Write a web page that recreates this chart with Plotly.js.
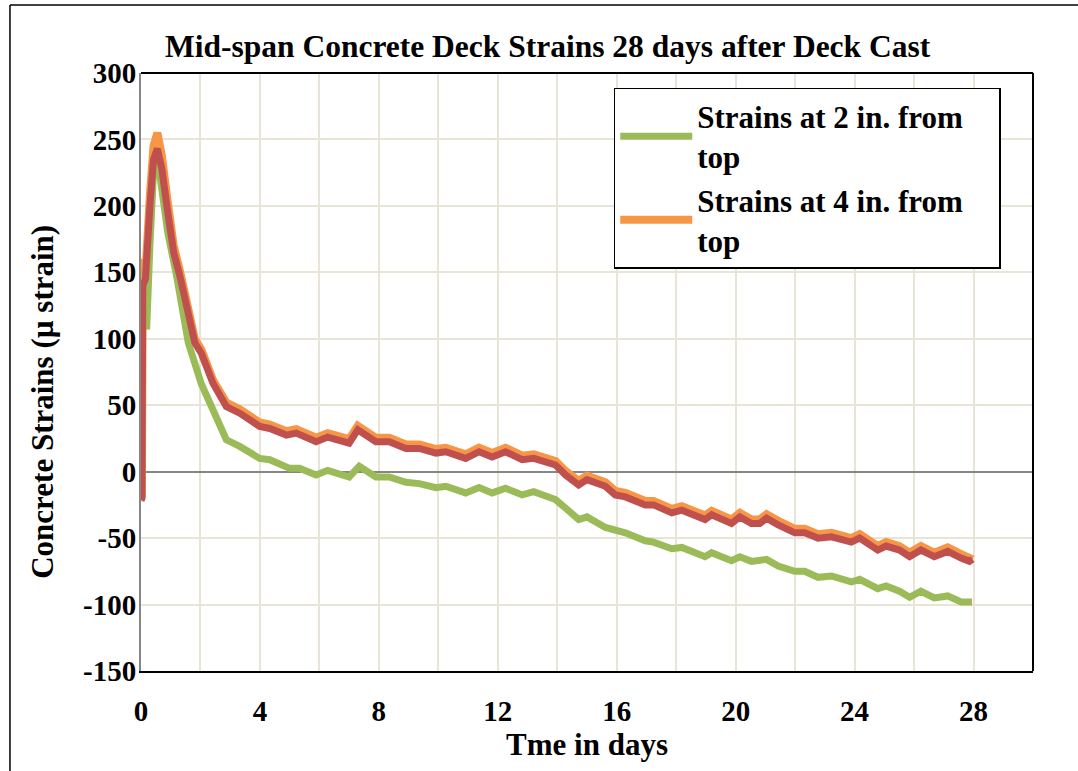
<!DOCTYPE html>
<html>
<head>
<meta charset="utf-8">
<script src="https://cdn.plot.ly/plotly-3.0.1.min.js"></script>
<style>html,body{margin:0;padding:0;background:#fff;}#chart{width:1078px;height:771px;}</style>
</head>
<body>
<div id="chart"></div>
<script>
// Strains at 2 in. from top (green)
const tGreen = [0, 0.03, 0.06, 0.12, 0.19, 0.3, 0.42, 0.55, 0.7, 0.9, 1.2, 1.59, 2.03, 2.42, 2.87, 3.32, 3.99, 4.33, 5.0, 5.33, 5.89, 6.28, 7.0, 7.34, 7.9, 8.35, 8.91, 9.36, 9.92, 10.25, 10.92, 11.37, 11.81, 12.26, 12.82, 13.21, 13.94, 14.28, 14.72, 15.0, 15.62, 16.29, 16.96, 17.24, 17.85, 18.19, 18.97, 19.19, 19.86, 20.14, 20.53, 21.04, 21.43, 21.99, 22.32, 22.77, 23.22, 23.89, 24.17, 24.78, 25.06, 25.51, 25.85, 26.23, 26.68, 27.13, 27.58, 27.95];
const vGreen = [-22, -20, 140, 125, 107, 170, 225, 237, 215, 180, 147, 97, 66, 46, 24, 19, 10, 9, 2.5, 2.5, -2.5, 1, -4, 4, -4, -4, -8, -9, -12, -11, -16, -12, -16, -12.5, -17.5, -15, -21, -27.5, -36, -34, -42, -46, -52, -53, -58, -57, -64, -61, -67, -64, -67.5, -66, -71, -75, -75, -79.5, -78.5, -83, -81, -88, -86, -90, -94.5, -90, -95, -93.5, -98, -98];

// Strains at 4 in. from top (orange) and companion gauge (red)
const tFour = [0, 0.03, 0.06, 0.15, 0.3, 0.42, 0.55, 0.7, 0.9, 1.1, 1.31, 1.81, 2.03, 2.42, 2.87, 3.32, 3.99, 4.33, 4.89, 5.22, 5.89, 6.28, 7.0, 7.29, 7.9, 8.35, 8.91, 9.36, 9.92, 10.25, 10.92, 11.37, 11.81, 12.26, 12.82, 13.21, 13.94, 14.28, 14.72, 15.0, 15.62, 15.95, 16.29, 16.96, 17.24, 17.85, 18.19, 18.97, 19.19, 19.86, 20.14, 20.53, 20.81, 21.04, 21.43, 21.99, 22.32, 22.77, 23.22, 23.89, 24.17, 24.78, 25.06, 25.51, 25.85, 26.23, 26.68, 27.13, 27.58, 27.86, 27.97];
const vOrange = [-19, -18, 160, 150, 208, 245, 255, 238, 203, 170, 151, 100, 92, 69, 52, 47, 37, 35.5, 30.5, 32, 25.5, 29, 24.5, 34.5, 25.5, 25.5, 20.5, 20.5, 17, 18, 13, 18, 14, 18, 12, 13, 8, 0.5, -7, -3, -8, -14.5, -16, -22, -22, -28, -26, -33, -29.5, -36, -31, -36, -36, -32, -37, -43, -43, -47, -46, -50, -47, -56, -53, -56, -61, -56, -61, -57, -62, -66, -66];
const vRed = [-21, -20, 140, 145, 200, 235, 243, 228, 195, 165, 147, 97, 89, 66.5, 49, 44, 34, 32.5, 27.5, 29, 22.5, 26, 21.5, 31.5, 22.5, 22.5, 17.5, 17.5, 14, 15, 10, 15, 11, 15, 9, 10, 5, -2.5, -10, -6, -11, -17.5, -19, -25, -25, -31, -29, -36, -32.5, -39, -34, -39, -39, -35, -40, -46, -46, -50, -49, -53, -50, -59, -56, -59, -64, -59, -64, -60, -65, -67.5, -66];

const xTicks = [0, 4, 8, 12, 16, 20, 24, 28];
const yTicks = [-150, -100, -50, 0, 50, 100, 150, 200, 250, 300];
const yTickText = ['-150', '-100', '-50', '0', '50', '100', '150', '200', '250', '300'];

const FONT = 'Liberation Serif, Times New Roman, serif';
const gridCol = '#E8E4D6';

const traces = [
  {x: tFour, y: vOrange, type: 'scatter', mode: 'lines', name: 'Strains at 4 in. from&nbsp;&nbsp;&nbsp;&nbsp;<br>top',
   line: {color: '#F79646', width: 8}, legendrank: 2},
  {x: tGreen, y: vGreen, type: 'scatter', mode: 'lines', name: 'Strains at 2 in. from&nbsp;&nbsp;&nbsp;&nbsp;<br>top',
   line: {color: '#9BBB59', width: 7}, legendrank: 1},
  {x: tFour, y: vRed, type: 'scatter', mode: 'lines', name: 'Strains at 4 in. (gauge 2)',
   line: {color: '#C0504D', width: 7}, showlegend: false}
];

const layout = {
  width: 1078, height: 771,
  paper_bgcolor: '#fff', plot_bgcolor: '#fff',
  margin: {l: 141, r: 45, t: 73, b: 100},
  font: {family: FONT, color: '#000', size: 30, weight: 'bold'},
  title: {text: 'Mid-span Concrete Deck Strains 28 days after Deck Cast',
          font: {family: FONT, size: 31.5, weight: 'bold', color: '#000'},
          x: 0.508, xref: 'container', xanchor: 'center', y: 0.94, yref: 'container', yanchor: 'middle'},
  xaxis: {
    range: [0, 30], tickvals: xTicks, ticks: '', showgrid: true, gridcolor: gridCol, gridwidth: 2,
    minor: {dtick: 2, showgrid: true, gridcolor: gridCol, gridwidth: 2},
    showline: true, linecolor: '#000', linewidth: 2, zeroline: false,
    tickfont: {family: FONT, size: 29, weight: 'bold'}, ticklabelstandoff: 13,
    title: {text: 'Tme in days', font: {family: FONT, size: 31, weight: 'bold'}, standoff: 3}
  },
  yaxis: {
    range: [-150, 300], tickvals: yTicks, ticktext: yTickText, ticks: '', showgrid: true, gridcolor: gridCol, gridwidth: 2,
    showline: true, linecolor: '#868686', linewidth: 2,
    zeroline: true, zerolinecolor: '#868686', zerolinewidth: 2,
    tickfont: {family: FONT, size: 29, weight: 'bold'}, ticklabelstandoff: -3,
    title: {text: ''}
  },
  annotations: [
    {text: 'Concrete Strains (µ strain)', xref: 'paper', yref: 'paper', x: -0.11, y: 0.45,
     xanchor: 'center', yanchor: 'middle', textangle: -90, showarrow: false,
     font: {family: FONT, size: 31, weight: 'bold', color: '#000'}}
  ],
  legend: {
    x: 0.53, y: 0.975, xanchor: 'left', yanchor: 'top',
    bgcolor: '#fff', bordercolor: '#000', borderwidth: 1.5,
    font: {family: FONT, size: 31, weight: 'bold', color: '#000'},
    traceorder: 'normal', itemwidth: 72, tracegroupgap: 0
  },
  shapes: [
    {type: 'line', xref: 'paper', yref: 'paper', x0: 0, x1: 1, y0: 1, y1: 1, line: {color: '#000', width: 2}},
    {type: 'line', xref: 'paper', yref: 'paper', x0: 1, x1: 1, y0: 0, y1: 1, line: {color: '#000', width: 2}},
    {type: 'line', xref: 'paper', yref: 'paper', x0: -0.1469, x1: 1.06, y0: 1.1137, y1: 1.1137, line: {color: '#000', width: 1.5}},
    {type: 'line', xref: 'paper', yref: 'paper', x0: -0.1469, x1: -0.1469, y0: -0.17, y1: 1.1137, line: {color: '#000', width: 1.5}}
  ]
};

Plotly.newPlot('chart', traces, layout, {staticPlot: true, displayModeBar: false});
</script>
</body>
</html>
